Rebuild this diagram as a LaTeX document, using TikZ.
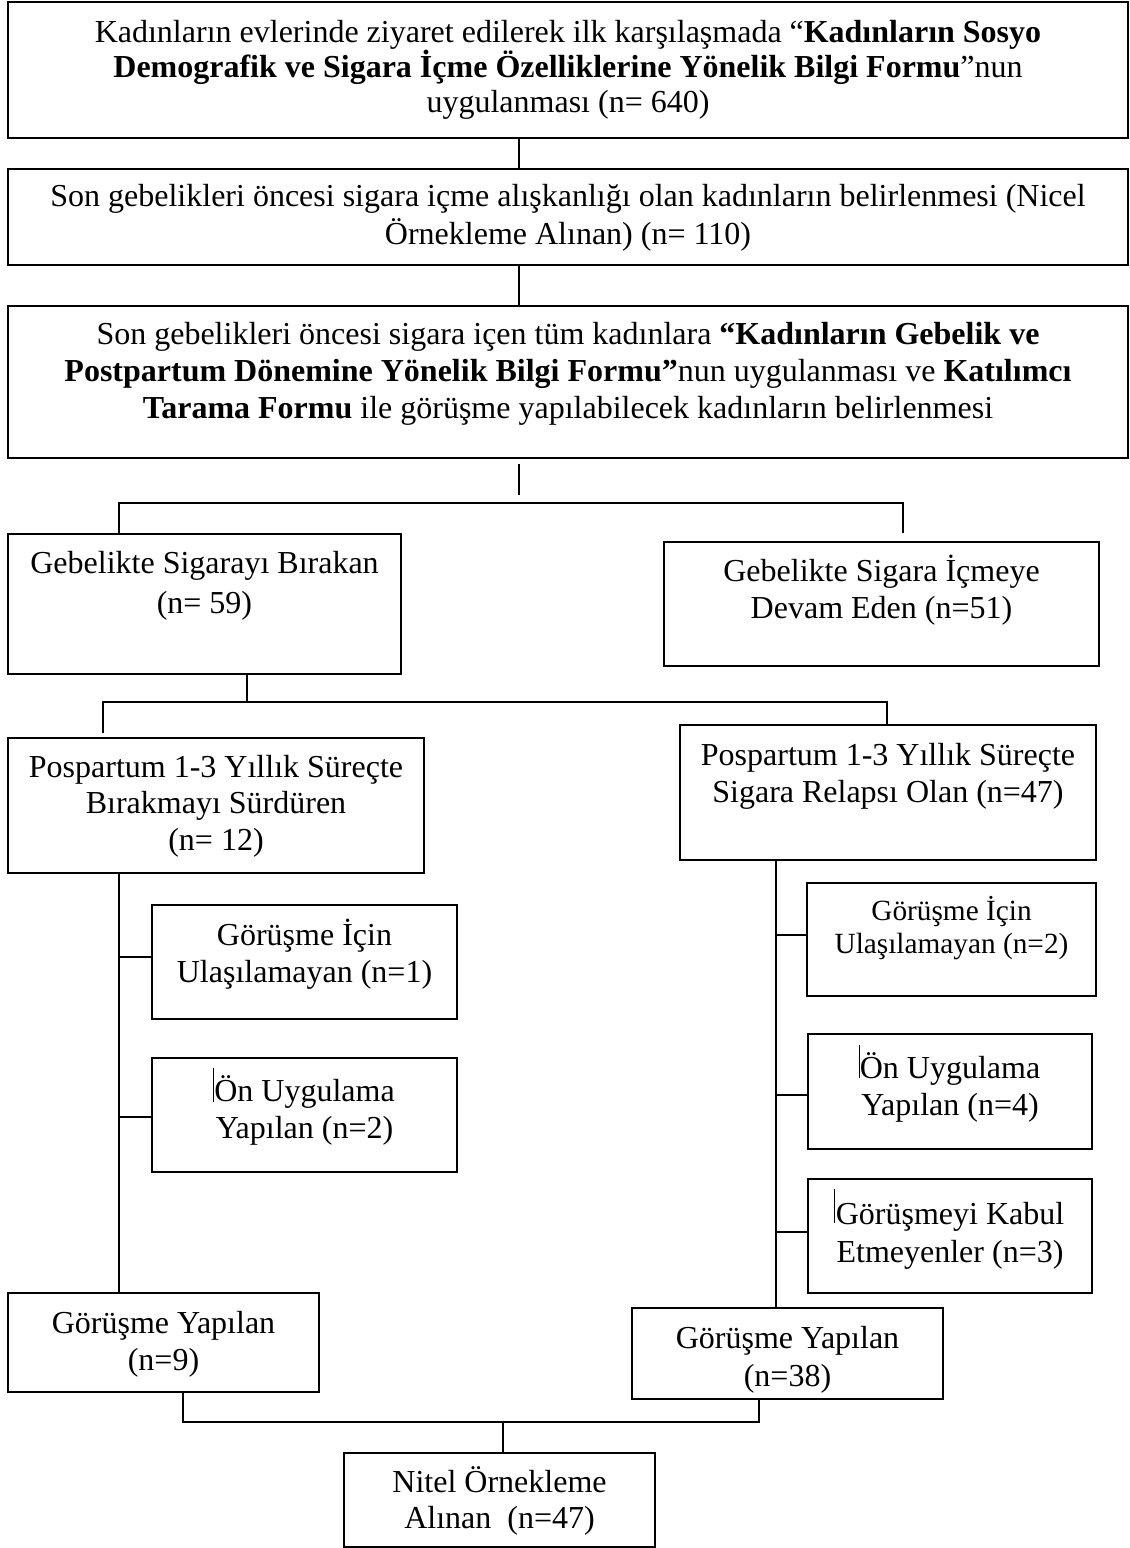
\documentclass[tikz,border=0pt]{standalone}
\usepackage{fontspec}
\setmainfont{Liberation Serif}
\newcommand\bxstrut{\rule{0pt}{30pt}}
\begin{document}
\begin{tikzpicture}[x=1pt,y=-1pt,
  box/.style={draw, line width=2pt, inner sep=0pt, anchor=north west},
  txt/.style={anchor=north, inner sep=0pt, align=center, font=\fontsize{32}{37}\selectfont},
  link/.style={line width=1.6pt},
  caret/.style={line width=1pt}]
\useasboundingbox (0,0) rectangle (1130,1548);

% ---------- boxes ----------
\node[box, minimum width=1120pt, minimum height=136pt] (b1) at (7,1) {};
\node[box, minimum width=1120pt, minimum height=96pt]  (b2) at (7,168) {};
\node[box, minimum width=1120pt, minimum height=152pt] (b3) at (7,305) {};
\node[box, minimum width=393pt,  minimum height=140pt] (b4) at (7,533) {};
\node[box, minimum width=435pt,  minimum height=124pt] (b5) at (663,541) {};
\node[box, minimum width=416pt,  minimum height=135pt] (b6) at (7,737) {};
\node[box, minimum width=416pt,  minimum height=135pt] (b7) at (679,724) {};
\node[box, minimum width=305pt,  minimum height=114pt] (b8) at (151,904) {};
\node[box, minimum width=305pt,  minimum height=114pt] (b9) at (151,1057) {};
\node[box, minimum width=289pt,  minimum height=113pt] (b10) at (806,882) {};
\node[box, minimum width=284pt,  minimum height=115pt] (b11) at (807,1033) {};
\node[box, minimum width=284pt,  minimum height=114pt] (b12) at (807,1178) {};
\node[box, minimum width=311pt,  minimum height=99pt]  (b13) at (7,1292) {};
\node[box, minimum width=311pt,  minimum height=91pt]  (b14) at (631,1307) {};
\node[box, minimum width=311pt,  minimum height=94pt]  (b15) at (343,1452) {};

% ---------- texts ----------
\node[txt, font=\fontsize{32}{35}\selectfont] (t1) at (b1.north |- 0,12)
  {\bxstrut Kadınların evlerinde ziyaret edilerek ilk karşılaşmada “\textbf{Kadınların Sosyo}\\
   \textbf{Demografik ve Sigara İçme Özelliklerine Yönelik Bilgi Formu}”nun\\
   uygulanması (n= 640)};
\node[txt, font=\fontsize{32}{38}\selectfont] (t2) at (b2.north |- 0,176)
  {\bxstrut Son gebelikleri öncesi sigara içme alışkanlığı olan kadınların belirlenmesi (Nicel\\
   Örnekleme Alınan) (n= 110)};
\node[txt] (t3) at (b3.north |- 0,314)
  {\bxstrut Son gebelikleri öncesi sigara içen tüm kadınlara \textbf{“Kadınların Gebelik ve}\\
   \textbf{Postpartum Dönemine Yönelik Bilgi Formu”}nun uygulanması ve \textbf{Katılımcı}\\
   \textbf{Tarama Formu} ile görüşme yapılabilecek kadınların belirlenmesi};
\node[txt, font=\fontsize{32}{40}\selectfont] (t4) at (b4.north |- 0,543)
  {\bxstrut Gebelikte Sigarayı Bırakan\\(n= 59)};
\node[txt] (t5) at (b5.north |- 0,551)
  {\bxstrut Gebelikte Sigara İçmeye\\Devam Eden (n=51)};
\node[txt, font=\fontsize{32}{36.5}\selectfont] (t6) at (b6.north |- 0,747)
  {\bxstrut Pospartum 1-3 Yıllık Süreçte\\Bırakmayı Sürdüren\\(n= 12)};
\node[txt] (t7) at (b7.north |- 0,735)
  {\bxstrut Pospartum 1-3 Yıllık Süreçte\\Sigara Relapsı Olan (n=47)};
\node[txt] (t8) at (b8.north |- 0,915)
  {\bxstrut Görüşme İçin\\Ulaşılamayan (n=1)};
\node[txt] (t9) at (b9.north |- 0,1071)
  {\bxstrut Ön Uygulama\\Yapılan (n=2)};
\node[txt, font=\fontsize{29.3}{33}\selectfont] (t10) at (b10.north |- 0,890)
  {\bxstrut Görüşme İçin\\Ulaşılamayan (n=2)};
\node[txt] (t11) at (b11.north |- 0,1048)
  {\bxstrut Ön Uygulama\\Yapılan (n=4)};
\node[txt, font=\fontsize{32}{38}\selectfont] (t12) at (b12.north |- 0,1194)
  {\bxstrut Görüşmeyi Kabul\\Etmeyenler (n=3)};
\node[txt] (t13) at (b13.north |- 0,1303)
  {\bxstrut Görüşme Yapılan\\(n=9)};
\node[txt, font=\fontsize{32}{38}\selectfont] (t14) at (b14.north |- 0,1318)
  {\bxstrut Görüşme Yapılan\\(n=38)};
\node[txt, font=\fontsize{32}{36}\selectfont] (t15) at (b15.north |- 0,1462)
  {\bxstrut Nitel Örnekleme\\Alınan\ \ (n=47)};

% ---------- junction points ----------
\coordinate (m1) at (519,0);
\coordinate (s3a) at (519,464);
\coordinate (s3b) at (519,495);
\coordinate (h1l) at (119,503);
\coordinate (h1r) at (903,503);
\coordinate (d5) at (903,533);
\coordinate (h2c) at (247,702);
\coordinate (h2l) at (103,702);
\coordinate (h2r) at (887,702);
\coordinate (d6) at (103,733);
\coordinate (lt) at (119,0);
\coordinate (rt) at (776,0);
\coordinate (lb8) at (119,957);
\coordinate (lb9) at (119,1117);
\coordinate (rb10) at (776,935);
\coordinate (rb11) at (776,1095);
\coordinate (rb12) at (776,1232);
\coordinate (hl) at (183,1422);
\coordinate (hr) at (759,1422);
\coordinate (hm) at (503,1422);

% ---------- connectors ----------
\draw[link] (b1.south -| m1) -- (b2.north -| m1);
\draw[link] (b2.south -| m1) -- (b3.north -| m1);
\draw[link] (s3a) -- (s3b);
\draw[link] (b4.north -| h1l) -- (h1l) -- (h1r) -- (d5);
\draw[link] (b4.south -| h2c) -- (h2c);
\draw[link] (d6) -- (h2l) -- (h2r) -- (b7.north -| h2r);
\draw[link] (b6.south -| lt) -- (b13.north -| lt);
\draw[link] (lb8) -- (lb8 -| b8.west);
\draw[link] (lb9) -- (lb9 -| b9.west);
\draw[link] (b7.south -| rt) -- (b14.north -| rt);
\draw[link] (rb10) -- (rb10 -| b10.west);
\draw[link] (rb11) -- (rb11 -| b11.west);
\draw[link] (rb12) -- (rb12 -| b12.west);
\draw[link] (b13.south -| hl) -- (hl) -- (hr) -- (b14.south -| hr);
\draw[link] (hm) -- (b15.north -| hm);

% ---------- text cursor marks ----------
\draw[caret] (213,1068) -- (213,1102);
\draw[caret] (859,1045) -- (859,1078);
\draw[caret] (834,1189) -- (834,1223);
\end{tikzpicture}
\end{document}
